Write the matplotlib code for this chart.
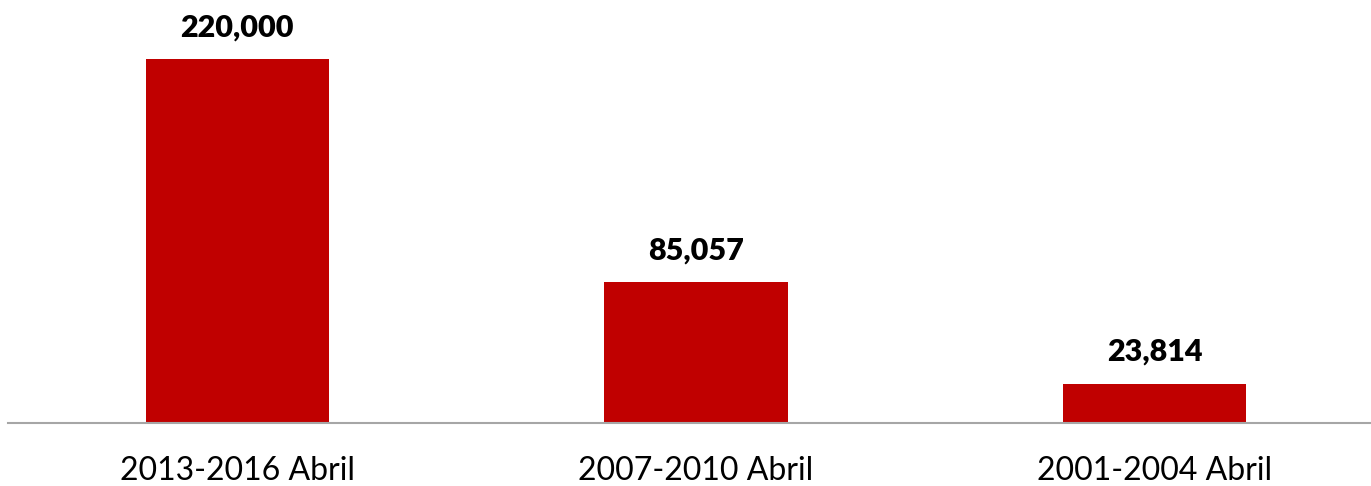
import matplotlib
matplotlib.use("Agg")
import matplotlib.pyplot as plt

# Daten
categories = ["2013-2016 Abril", "2007-2010 Abril", "2001-2004 Abril"]
values = [220000, 85057, 23814]
value_labels = ["220,000", "85,057", "23,814"]

BAR_COLOR = "#C00000"
AXIS_COLOR = "#A6A6A6"

plt.rcParams["font.family"] = ["Lato", "DejaVu Sans"]

fig = plt.figure(figsize=(13.71, 4.86), dpi=100)
W, H = 1371, 486
ax_left = 8 / W
ax_bottom = (H - 423) / H
ax = fig.add_axes([ax_left, ax_bottom, 1 - ax_left, 1 - ax_bottom])

x = list(range(len(categories)))
ax.bar(x, values, width=0.4, color=BAR_COLOR, zorder=2)

for xi, v, lab in zip(x, values, value_labels):
    ax.annotate(lab, (xi, v), xytext=(0, 13), textcoords="offset points",
                ha="center", va="bottom", fontsize=22, fontweight="heavy", color="black")

ax.set_xlim(-0.5, 2.5 - 13 / 458.75)
ax.set_ylim(0, 256000)
ax.set_xticks(x)
ax.set_xticklabels(categories, fontsize=23)
ax.tick_params(axis="x", length=0, pad=23.5)
ax.set_yticks([])

for side in ["top", "right", "left"]:
    ax.spines[side].set_visible(False)
ax.spines["bottom"].set_color(AXIS_COLOR)
ax.spines["bottom"].set_linewidth(1.5)

fig.savefig("out.png", dpi=100)
